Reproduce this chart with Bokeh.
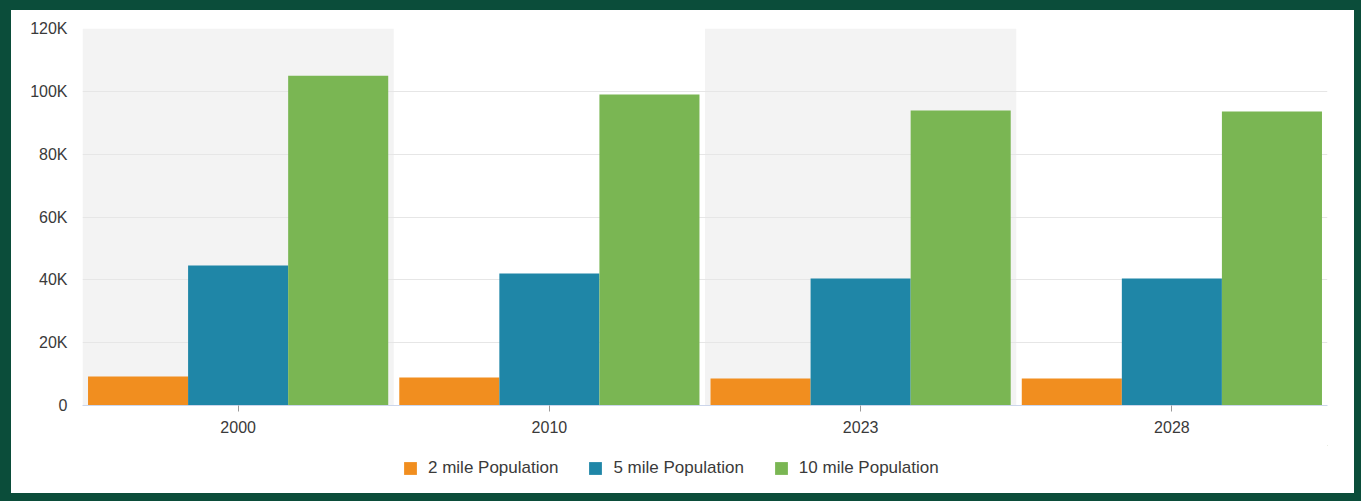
from bokeh.plotting import figure
from bokeh.layouts import column
from bokeh.models import ColumnDataSource, FactorRange, FixedTicker, Legend, LegendItem, Range1d
from bokeh.transform import dodge
from bokeh.embed import file_html
from bokeh.resources import INLINE

# ---- data ----
years = ["2000", "2010", "2023", "2028"]
pop_2mile = [9200, 8900, 8600, 8600]
pop_5mile = [44600, 42000, 40400, 40400]
pop_10mile = [105000, 99000, 93900, 93600]
series_names = ["2 mile Population", "5 mile Population", "10 mile Population"]
series_colors = ["#F18E1F", "#1F86A7", "#7AB653"]
shaded_years = ["2000", "2023"]
y_ticks = [0, 20000, 40000, 60000, 80000, 100000, 120000]
y_tick_labels = ["0", "20K", "40K", "60K", "80K", "100K", "120K"]
y_max = 120000

FONT = "Liberation Sans"
TEXT = "#3a3a3a"

src = ColumnDataSource(dict(years=years, s2=pop_2mile, s5=pop_5mile, s10=pop_10mile))
band_src = ColumnDataSource(dict(years=shaded_years, top=[y_max] * len(shaded_years)))

p = figure(
    x_range=FactorRange(factors=years, range_padding=0),
    y_range=Range1d(0, y_max),
    frame_width=1245, frame_height=377,
    output_backend="svg", toolbar_location=None,
    min_border_left=71, min_border_right=27, min_border_top=18, min_border_bottom=40,
    background_fill_color=None, border_fill_color=None,
)
p.outline_line_color = None

# alternating category bands (drawn beneath the grid)
p.vbar(x="years", top="top", bottom=0, width=1.0, source=band_src,
       fill_color="#f3f3f3", line_color=None, level="image")

bw = 0.3215
p.vbar(x=dodge("years", -bw, range=p.x_range), top="s2", width=bw, source=src,
       fill_color=series_colors[0], line_color=None)
p.vbar(x=dodge("years", 0.0, range=p.x_range), top="s5", width=bw, source=src,
       fill_color=series_colors[1], line_color=None)
p.vbar(x=dodge("years", bw, range=p.x_range), top="s10", width=bw, source=src,
       fill_color=series_colors[2], line_color=None)

# y axis
p.yaxis.ticker = FixedTicker(ticks=y_ticks)
p.yaxis.major_label_overrides = {t: l for t, l in zip(y_ticks, y_tick_labels)}
p.yaxis.axis_line_color = None
p.yaxis.major_tick_line_color = None
p.yaxis.minor_tick_line_color = None
p.yaxis.major_label_standoff = 9
p.yaxis.major_label_text_font = FONT
p.yaxis.major_label_text_font_size = "16px"
p.yaxis.major_label_text_color = TEXT

# x axis
p.xaxis.axis_line_color = "#ccd6eb"
p.xaxis.major_tick_line_color = "#999999"
p.xaxis.major_tick_in = 0
p.xaxis.major_tick_out = 6
p.xaxis.major_label_standoff = 9
p.xaxis.major_label_text_font = FONT
p.xaxis.major_label_text_font_size = "16px"
p.xaxis.major_label_text_color = TEXT

p.xgrid.grid_line_color = None
p.ygrid.grid_line_color = "#e6e6e6"
p.ygrid.level = "underlay"

# ---- legend strip (separate small figure below the chart) ----
lg = figure(
    width=1343, height=48,
    x_range=Range1d(0, 1), y_range=Range1d(0, 1),
    x_axis_location=None, y_axis_location=None,
    output_backend="svg", toolbar_location=None,
    min_border=0, background_fill_color=None, border_fill_color=None,
)
lg.outline_line_color = None
lg.xgrid.grid_line_color = None
lg.ygrid.grid_line_color = None
hidden = ColumnDataSource(dict(x=[10], top=[10]))
leg_renderers = [lg.vbar(x="x", top="top", bottom=9, width=0.1, source=hidden,
                         fill_color=c, line_color=None) for c in series_colors]

legend = Legend(
    items=[LegendItem(label=n, renderers=[r]) for n, r in zip(series_names, leg_renderers)],
    orientation="horizontal", location=(320, 15),
    label_text_font=FONT, label_text_font_size="17px", label_text_color=TEXT,
    glyph_width=16, glyph_height=16, label_standoff=10, spacing=29,
    border_line_color=None, background_fill_alpha=0,
    margin=0, padding=5,
)
lg.add_layout(legend, "center")

layout = column(p, lg, spacing=0, styles={"background-color": "white"})

html = file_html(layout, INLINE).replace(
    "</head>",
    "<style>html,body{background:#0b4d3a !important;}"
    "body{margin:10px 0 0 11px !important;}</style></head>", 1)
open("out.html", "w").write(html)
